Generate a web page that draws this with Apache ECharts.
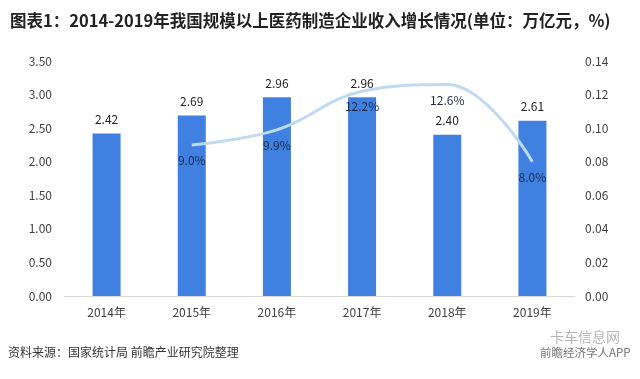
<!DOCTYPE html>
<html><head><meta charset="utf-8">
<script src="https://cdn.jsdelivr.net/npm/echarts@6/dist/echarts.min.js"></script>
<style>html,body{margin:0;padding:0;background:#fff}#c{width:640px;height:379px}</style>
</head><body><div id="c"></div>
<script>
const categories = ['2014年','2015年','2016年','2017年','2018年','2019年'];
const revenue = [2.42, 2.69, 2.96, 2.96, 2.40, 2.61];
const growth = [null, 0.090, 0.099, 0.122, 0.126, 0.080];
const growthLabels = ['', '9.0%', '9.9%', '12.2%', '12.6%', '8.0%'];
const titleText = '图表1：2014-2019年我国规模以上医药制造企业收入增长情况(单位：万亿元，%)';
const sourceText = '资料来源：国家统计局 前瞻产业研究院整理';

const chart = echarts.init(document.getElementById('c'));
const font = '"Noto Sans CJK SC", "Noto Sans", sans-serif';
chart.setOption({
  animation: false,
  textStyle: {fontFamily: font},
  title: {
    text: titleText, left: 5, top: 7,
    textStyle: {fontSize: 16.5, fontWeight: 'bold', color: '#222', fontFamily: font}
  },
  graphic: [
    {type: 'text', left: 8, top: 346, style: {text: sourceText, fill: '#333', font: '12px ' + font}},
    {type: 'text', left: 550, top: 330, style: {text: '卡车信息网', fill: 'rgba(120,120,120,0.55)', font: '14px ' + font}},
    {type: 'text', left: 540, top: 347, style: {text: '前瞻经济学人APP', fill: 'rgba(90,90,90,0.85)', font: '11.5px ' + font}}
  ],
  grid: {left: 64, right: 65, top: 61, bottom: 83, containLabel: false},
  xAxis: {
    type: 'category', data: categories,
    axisLine: {lineStyle: {color: '#d9d9d9'}},
    axisTick: {show: false},
    axisLabel: {color: '#404040', fontSize: 12, margin: 10}
  },
  yAxis: [
    {type: 'value', min: 0, max: 3.5, interval: 0.5,
     axisLine: {show: false}, axisTick: {show: false}, splitLine: {show: false},
     axisLabel: {color: '#404040', fontSize: 12, margin: 12, formatter: v => v.toFixed(2)}},
    {type: 'value', min: 0, max: 0.14, interval: 0.02,
     axisLine: {show: false}, axisTick: {show: false}, splitLine: {show: false},
     axisLabel: {color: '#404040', fontSize: 12, margin: 10, formatter: v => v.toFixed(2)}}
  ],
  series: [
    {type: 'bar', data: revenue, barWidth: 28, yAxisIndex: 0,
     itemStyle: {color: '#3f80e0'},
     label: {show: true, position: 'top', distance: 8, color: '#222', fontSize: 12, formatter: p => p.value.toFixed(2)}},
    {type: 'line', data: growth, yAxisIndex: 1, smooth: 0.4, symbol: 'circle', symbolSize: 1,
     showSymbol: true, connectNulls: false,
     itemStyle: {color: 'rgba(0,0,0,0)'},
     lineStyle: {color: '#c0d9f2', width: 3},
     label: {show: true, position: 'bottom', distance: 9, color: '#1c2a48', fontSize: 12,
             formatter: p => growthLabels[p.dataIndex]}}
  ]
});
</script></body></html>
